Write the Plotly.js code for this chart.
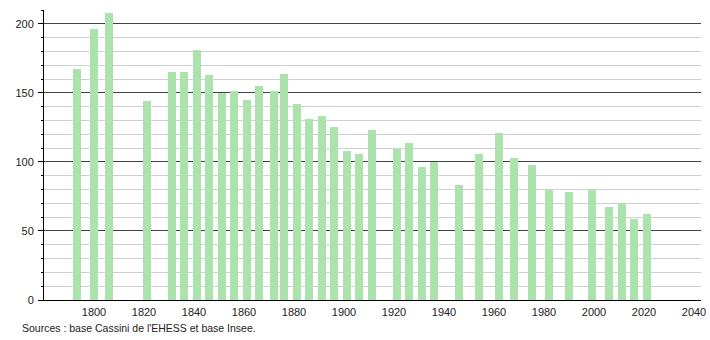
<!DOCTYPE html>
<html>
<head>
<meta charset="utf-8">
<script src="https://cdn.plot.ly/plotly-3.0.1.min.js"></script>
<style>html,body{margin:0;padding:0;background:#fff;}#chart{width:710px;height:340px;}</style>
</head>
<body>
<div id="chart"></div>
<script>
const years = [1793,1800,1806,1821,1831,1836,1841,1846,1851,1856,1861,1866,1872,1876,1881,1886,1891,1896,1901,1906,1911,1921,1926,1931,1936,1946,1954,1962,1968,1975,1982,1990,1999,2006,2011,2016,2021];
const population = [167,196,208,144,165,165,181,163,150,151,145,155,151,164,142,131,133,125,108,106,123,109,114,96,100,83,106,121,103,98,80,78,80,67,70,59,62];
const xTicks = [1800,1820,1840,1860,1880,1900,1920,1940,1960,1980,2000,2020,2040];
const yTicks = [0,50,100,150,200];
const sourceText = "Sources : base Cassini de l'EHESS et base Insee.";

const trace = {
  type: 'bar',
  x: years,
  y: population,
  width: 3.2,
  marker: {color: 'rgb(172,226,172)', line: {width: 0}},
  hoverinfo: 'x+y'
};

const layout = {
  width: 710, height: 340,
  margin: {l: 44, r: 9, t: 10, b: 40},
  paper_bgcolor: '#fff', plot_bgcolor: '#fff',
  font: {family: 'Liberation Sans, Arial, sans-serif', size: 11, color: '#222'},
  showlegend: false,
  bargap: 0,
  xaxis: {
    range: [1780, 2042.8],
    tickmode: 'array', tickvals: xTicks, ticktext: xTicks.map(String),
    showgrid: false, zeroline: false,
    showline: true, linecolor: '#000', linewidth: 1,
    ticks: '', ticklabelstandoff: 2,
    tickfont: {size: 11, color: '#222'}
  },
  yaxis: {
    range: [0, 210],
    tickmode: 'array', tickvals: yTicks, ticktext: yTicks.map(String),
    showgrid: true, gridcolor: '#444', gridwidth: 1,
    zeroline: false,
    showline: true, linecolor: '#000', linewidth: 1,
    ticks: 'outside', ticklen: 5, tickcolor: '#000',
    ticklabelstandoff: 2,
    minor: {dtick: 10, showgrid: true, gridcolor: '#d0d0d0', gridwidth: 1, ticks: 'outside', ticklen: 2, tickcolor: '#000'},
    tickfont: {size: 11, color: '#222'}
  },
  annotations: [{
    text: sourceText, xref: 'paper', yref: 'paper',
    x: -0.0365, y: -0.0966, xanchor: 'left', yanchor: 'middle',
    showarrow: false, font: {size: 10.5, color: '#222'}
  }]
};

Plotly.newPlot('chart', [trace], layout, {displayModeBar: false, staticPlot: true});
</script>
</body>
</html>
